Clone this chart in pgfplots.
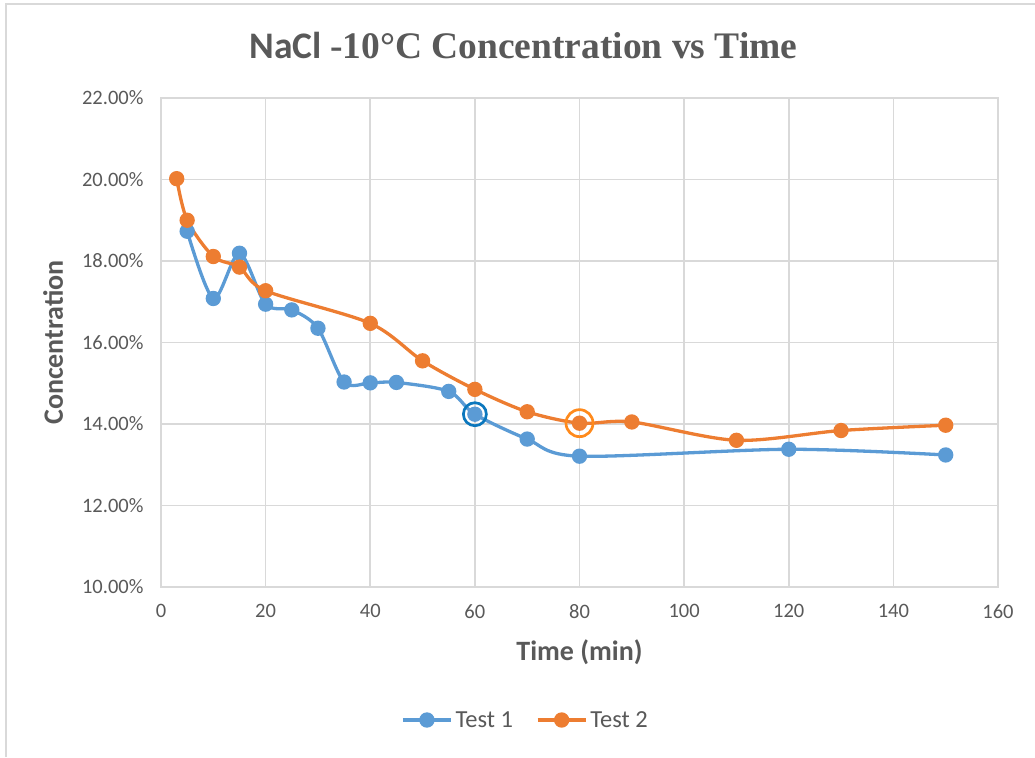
\documentclass[border=0pt]{standalone}
\usepackage{pgfplots}
\pgfplotsset{compat=1.18}
\usepackage{fontspec}
\setmainfont{Carlito}
\newfontfamily\titleserif{Liberation Serif}
\definecolor{sblue}{HTML}{5B9BD5}
\definecolor{sorange}{HTML}{ED7D31}
\definecolor{txtgray}{HTML}{595959}
\definecolor{gridgray}{HTML}{D9D9D9}
\definecolor{ringblue}{HTML}{0B77BD}
\definecolor{ringorange}{HTML}{FF8A1C}
\begin{document}
\begin{tikzpicture}[x=1pt,y=1pt]
\useasboundingbox (0,0) rectangle (1035,757);
\draw[gridgray, line width=1.6pt] (6,0) -- (6,753) -- (1035,753);
\node[anchor=base, text=txtgray, inner sep=0pt] at (523.5,698.5)
  {\fontsize{37.5}{40}\selectfont\bfseries NaCl \titleserif -10°C Concentration vs Time};
\begin{axis}[
  at={(161pt,170pt)}, anchor=south west,
  scale only axis, width=837pt, height=489pt,
  xmin=0, xmax=160, ymin=10, ymax=22,
  xtick={0,20,...,160}, ytick={10,12,...,22},
  grid=major,
  major grid style={gridgray, line width=1.7pt},
  axis line style={gridgray, line width=1.7pt},
  major tick length=0pt,
  tick label style={text=txtgray, font=\fontsize{20.5}{24}\selectfont},
  /pgf/number format/assume math mode=true,
  yticklabel={\pgfmathprintnumber[fixed,fixed zerofill,precision=2]{\tick}\%},
  yticklabel style={xshift=-14pt},
  xticklabel style={yshift=-14pt},
  xlabel={Time (min)}, ylabel={Concentration},
  label style={text=txtgray, font=\fontsize{28}{32}\selectfont\bfseries},
  xlabel style={at={(axis description cs:0.5,-0.1493)}, anchor=base},
  ylabel style={at={(axis description cs:-0.1171,0.5)}, anchor=base},
  legend style={at={(axis description cs:0.4361,-0.272)}, anchor=center,
    draw=none, fill=none, legend columns=2,
    font=\fontsize{24.5}{28}\selectfont, text=txtgray,
    /tikz/every even column/.append style={column sep=20pt},
    nodes={inner sep=3pt}},
  legend image code/.code={
    \draw[mark repeat=2,mark phase=2,#1] plot coordinates {(0pt,0pt) (24pt,0pt) (48pt,0pt)};},
  every axis plot/.append style={line width=3.3pt, mark=*, mark size=6pt,
    mark options={solid, line width=0pt}},
]
\addplot[sblue, smooth, mark options={fill=sblue, draw=sblue}] coordinates {
(5,18.73) (10,17.08) (15,18.19) (20,16.94) (25,16.80) (30,16.35) (35,15.03)
(40,15.01) (45,15.02) (55,14.80) (60,14.24) (70,13.63) (80,13.21)
(120,13.38) (150,13.24)};
\addlegendentry{Test 1}
\addplot[sorange, smooth, mark options={fill=sorange, draw=sorange}] coordinates {
(3,20.02) (5,19.00) (10,18.11) (15,17.85) (20,17.27) (40,16.47) (50,15.55)
(60,14.85) (70,14.30) (80,14.02) (90,14.05) (110,13.60) (130,13.84) (150,13.97)};
\addlegendentry{Test 2}
\addplot[forget plot, only marks, mark=o, mark size=11.5pt, mark options={draw=ringblue, line width=2.7pt}] coordinates {(60,14.24)};
\addplot[forget plot, only marks, mark=o, mark size=13.5pt, mark options={draw=ringorange, line width=2.7pt}] coordinates {(80,14.02)};
\end{axis}
\end{tikzpicture}
\end{document}
